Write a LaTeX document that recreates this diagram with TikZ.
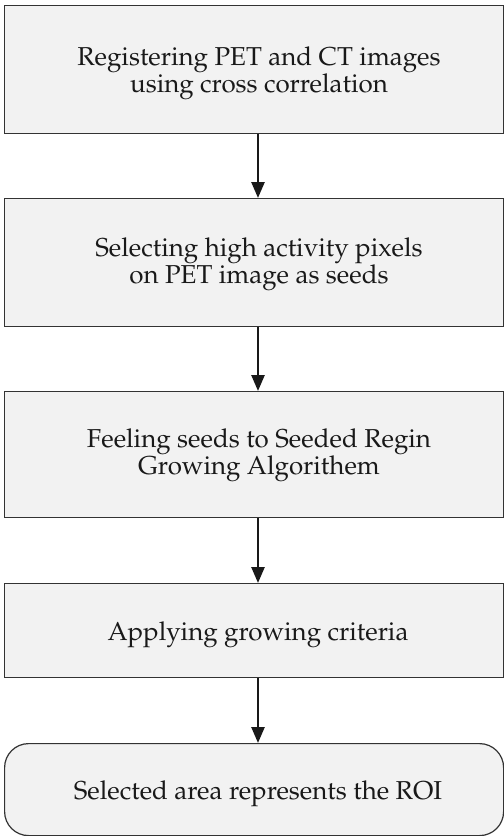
\documentclass[tikz,border=0pt]{standalone}
\usepackage[T1]{fontenc}
\usepackage{mathpazo}
\usetikzlibrary{arrows.meta}
\definecolor{boxfill}{HTML}{F2F2F2}
\definecolor{boxline}{HTML}{333333}
\begin{document}
\begin{tikzpicture}[x=1bp,y=-1bp,
  stepbox/.style={draw=boxline, fill=boxfill, line width=1.2bp, rectangle, minimum width=499bp, inner sep=0pt, anchor=north west},
  endbox/.style={stepbox, rounded corners=24bp},
  lbl/.style={font=\fontsize{26}{25.5}\selectfont, align=center, text=black!90, inner sep=0pt},
  arr/.style={line width=2.6bp, draw=black!90, -{Triangle[width=13bp,length=16bp]}}]
\useasboundingbox (0,0) rectangle (504,836);
\node[stepbox, minimum height=128bp] (b1) at (4,5) {};
\node[stepbox, minimum height=128bp] (b2) at (4,198) {};
\node[stepbox, minimum height=126bp] (b3) at (4,391) {};
\node[stepbox, minimum height=94bp] (b4) at (4,583) {};
\node[endbox, minimum height=92bp] (b5) at (4,743) {};
\node[lbl] (l1) at (259,73.5) {Registering PET and CT images\\using cross correlation};
\node[lbl] (l2) at (259,264) {Selecting high activity pixels\\on PET image as seeds};
\node[lbl] (l3) at (259,455) {Feeling seeds to Seeded Regin\\Growing Algorithem};
\node[lbl] (l4) at (258,635) {Applying growing criteria};
\node[lbl] (l5) at (258,794) {Selected area represents the ROI};
\draw[arr] (b1.south -| 258,0) -- (b2.north -| 258,0);
\draw[arr] (b2.south -| 258,0) -- (b3.north -| 258,0);
\draw[arr] (b3.south -| 258,0) -- (b4.north -| 258,0);
\draw[arr] (b4.south -| 258,0) -- (b5.north -| 258,0);
\end{tikzpicture}
\end{document}
